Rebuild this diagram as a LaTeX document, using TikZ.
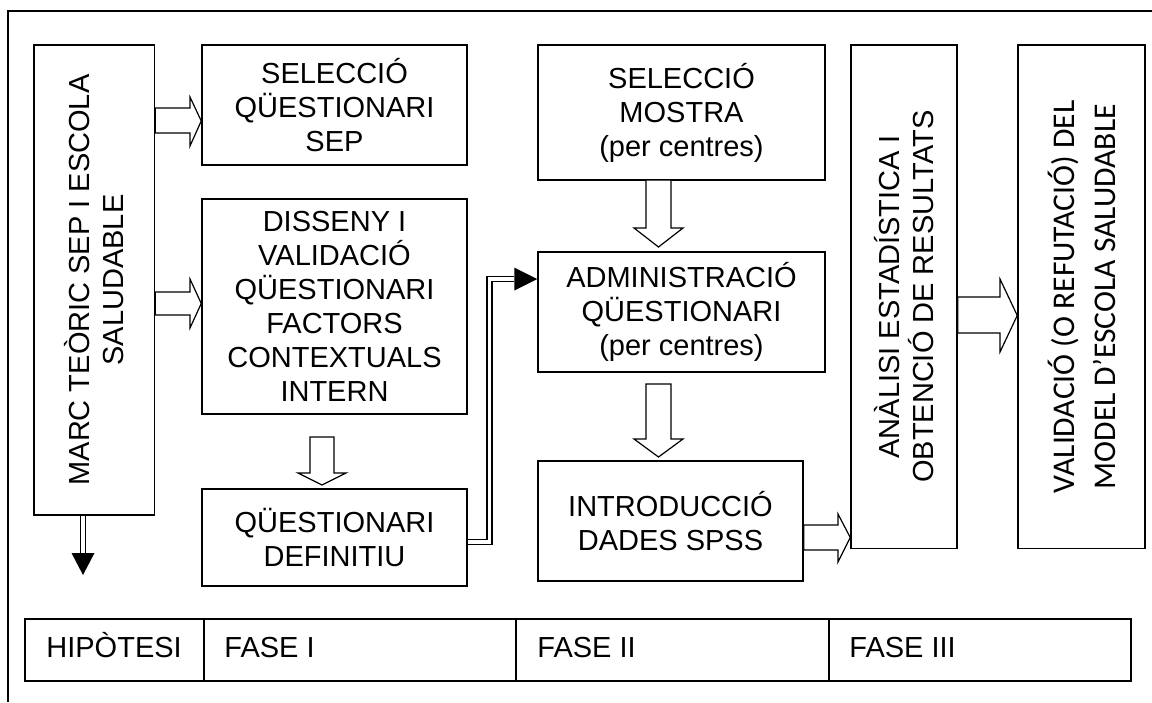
\documentclass[tikz,border=0pt]{standalone}
\usepackage{fontspec}
\setmainfont{Liberation Sans}
\newfontfamily\calib{Carlito}
\usetikzlibrary{backgrounds}
\begin{document}
\begin{tikzpicture}[x=0.5pt,y=-0.5pt,
  box/.style={draw, line width=0.75pt, inner sep=0pt, align=center, font=\fontsize{14.5}{17}\selectfont},
  vbox/.style={box, rotate=90},
  cell/.style={draw, line width=0.75pt, inner sep=0pt, minimum height=31pt, anchor=west},
  lbl/.style={inner sep=0pt, anchor=base west, font=\fontsize{14.5}{17}\selectfont},
  harrow/.style={draw, fill=white, line width=0.6pt, line join=miter},
  dbl/.style={draw, line width=0.65pt, double=white, double distance=1.9pt, line join=miter},
  frame/.style={draw, line width=0.65pt}
]
\useasboundingbox (0,0) rectangle (1152,702);
% outer frame (open at right and bottom)
\draw[frame] (8,702) -- (8,11) -- (1152,11);

% boxes (rotated boxes: north = left side, south = right side, west = bottom)
\node[vbox, minimum width=235pt, minimum height=60.25pt] (marc) at (94.25,280) {MARC TEÒRIC SEP I ESCOLA\\SALUDABLE};
\node[box, minimum width=132.5pt, minimum height=60pt] (sel) at (334.5,105) {SELECCIÓ\\QÜESTIONARI\\SEP};
\node[box, minimum width=132.5pt, minimum height=107.5pt] (dis) at (334.5,306.5) {DISSENY I\\VALIDACIÓ\\QÜESTIONARI\\FACTORS\\CONTEXTUALS\\INTERN};
\node[box, minimum width=132.5pt, minimum height=48.5pt] (qd) at (334.5,537.5) {QÜESTIONARI\\DEFINITIU};
\node[box, minimum width=143.5pt, minimum height=67.5pt] (selm) at (681.5,112.5) {SELECCIÓ\\MOSTRA\\(per centres)};
\node[box, minimum width=143.5pt, minimum height=60pt] (adm) at (681.5,312) {ADMINISTRACIÓ\\QÜESTIONARI\\(per centres)};
\node[box, minimum width=132.5pt, minimum height=60pt] (intro) at (670.5,521) {INTRODUCCIÓ\\DADES SPSS};
\node[vbox, minimum width=251.75pt, minimum height=53pt] (ana) at (904,296.75) {ANÀLISI ESTADÍSTICA I\\OBTENCIÓ DE RESULTATS};
\node[vbox, minimum width=251.75pt, minimum height=63.5pt, font=\calib\fontsize{15.8}{20.5}\selectfont] (val) at (1081.5,296.75) {VALIDACIÓ (O REFUTACIÓ) DEL\\MODEL D’ESCOLA SALUDABLE};

% phase table
\node[cell, minimum width=89.5pt] (hip) at (24,650) {};
\node[cell, minimum width=156pt] (f1) at (203,650) {};
\node[cell, minimum width=156.5pt] (f2) at (515,650) {};
\node[cell, minimum width=151pt] (f3) at (828,650) {};
\node[lbl] (hipt) at (46,657) {HIPÒTESI};
\node[lbl] (f1t) at (224,657) {FASE I};
\node[lbl] (f2t) at (537,657) {FASE II};
\node[lbl] (f3t) at (849,657) {FASE III};

% hollow block arrows
\draw[harrow] (marc.south|-0,108) -- (190,108) -- (190,97) -- (sel.west|-0,121) -- (190,146) -- (190,133) -- (marc.south|-0,133) -- cycle;
\draw[harrow] (marc.south|-0,292) -- (190,292) -- (190,279) -- (dis.west|-0,303.5) -- (190,328) -- (190,315) -- (marc.south|-0,315) -- cycle;
\draw[harrow] (310,437) -- (310,473) -- (298,473) -- (322,485) -- (346,473) -- (334,473) -- (334,437) -- cycle;
\draw[harrow] (646,180) -- (646,228) -- (634,228) -- (658.5,247) -- (683,228) -- (671,228) -- (671,180) -- cycle;
\draw[harrow] (646,384) -- (646,439) -- (634,439) -- (658.5,457) -- (683,439) -- (671,439) -- (671,384) -- cycle;
\draw[harrow] (intro.east|-0,525) -- (838,525) -- (838,514) -- (ana.north|-0,537.5) -- (838,562) -- (838,550) -- (intro.east|-0,550) -- cycle;
\draw[harrow] (ana.south|-0,297) -- (1000,297) -- (1000,279) -- (val.north|-0,315.5) -- (1000,352) -- (1000,333) -- (ana.south|-0,333) -- cycle;

% double-line connectors with black heads
\coordinate (b1tip) at (83,575);
\coordinate (b2bend) at (489.5,279);
\begin{scope}[on background layer]
\draw[dbl, shorten >=11pt] (marc.west -| b1tip) -- (b1tip);
\draw[dbl, shorten >=11.5pt] (qd.east |- 0,542) -| (b2bend) -- (adm.west |- b2bend);
\end{scope}
\fill (b1tip) -- ++(-11.5,-22) -- ++(23,0) -- cycle;
\fill (adm.west |- b2bend) -- ++(-23,-11.5) -- ++(0,23) -- cycle;
\end{tikzpicture}
\end{document}
